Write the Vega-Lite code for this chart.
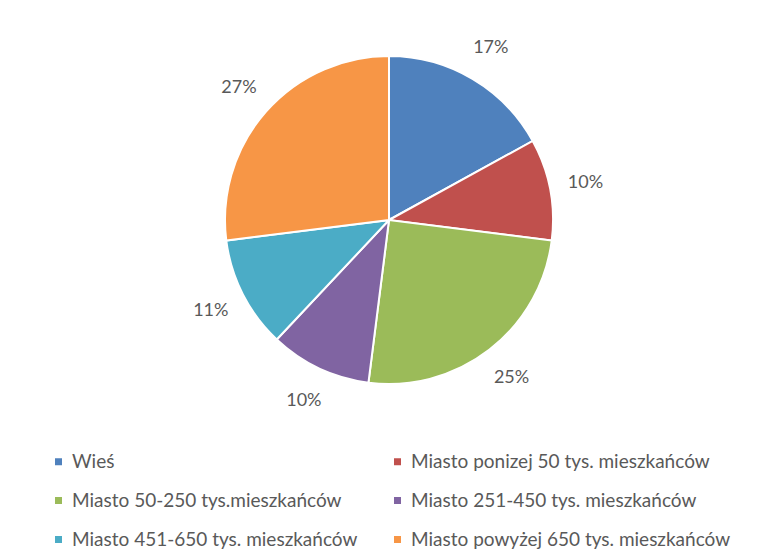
{
  "$schema": "https://vega.github.io/schema/vega-lite/v6.json",
  "width": 742,
  "height": 434,
  "autosize": {"type": "none"},
  "padding": {"left": 18, "top": 3, "right": 0, "bottom": 122},
  "background": "white",
  "config": {"view": {"stroke": null}},
  "data": {
    "values": [
      {"kategoria": "Wieś", "udzial": 17, "kolejnosc": 1, "etykieta": "17%"},
      {"kategoria": "Miasto ponizej 50 tys. mieszkańców", "udzial": 10, "kolejnosc": 2, "etykieta": "10%"},
      {"kategoria": "Miasto 50-250 tys.mieszkańców", "udzial": 25, "kolejnosc": 3, "etykieta": "25%"},
      {"kategoria": "Miasto 251-450 tys. mieszkańców", "udzial": 10, "kolejnosc": 4, "etykieta": "10%"},
      {"kategoria": "Miasto 451-650 tys. mieszkańców", "udzial": 11, "kolejnosc": 5, "etykieta": "11%"},
      {"kategoria": "Miasto powyżej 650 tys. mieszkańców", "udzial": 27, "kolejnosc": 6, "etykieta": "27%"}
    ]
  },
  "encoding": {
    "theta": {"field": "udzial", "type": "quantitative", "stack": true},
    "order": {"field": "kolejnosc", "type": "quantitative"}
  },
  "layer": [
    {
      "mark": {"type": "arc", "radius": 164, "stroke": "white", "strokeWidth": 2},
      "encoding": {
        "color": {
          "field": "kategoria",
          "type": "nominal",
          "scale": {
            "domain": ["Wieś", "Miasto ponizej 50 tys. mieszkańców", "Miasto 50-250 tys.mieszkańców", "Miasto 251-450 tys. mieszkańców", "Miasto 451-650 tys. mieszkańców", "Miasto powyżej 650 tys. mieszkańców"],
            "range": ["#4F81BD", "#C0504D", "#9BBB59", "#8064A2", "#4BACC6", "#F79646"]
          },
          "legend": {
            "title": null,
            "orient": "none",
            "legendX": 31,
            "legendY": 449,
            "columns": 2,
            "direction": "horizontal",
            "columnPadding": 30,
            "rowPadding": 19,
            "padding": 0,
            "symbolType": "square",
            "symbolSize": 49,
            "symbolStrokeWidth": 0,
            "labelFont": "Lato",
            "labelFontSize": 19,
            "labelColor": "#595959",
            "labelLimit": 400,
            "labelOffset": 4
          }
        }
      }
    },
    {
      "mark": {"type": "text", "radius": 200, "font": "Lato", "fontSize": 18, "color": "#595959"},
      "encoding": {
        "text": {"field": "etykieta", "type": "nominal"}
      }
    }
  ]
}
